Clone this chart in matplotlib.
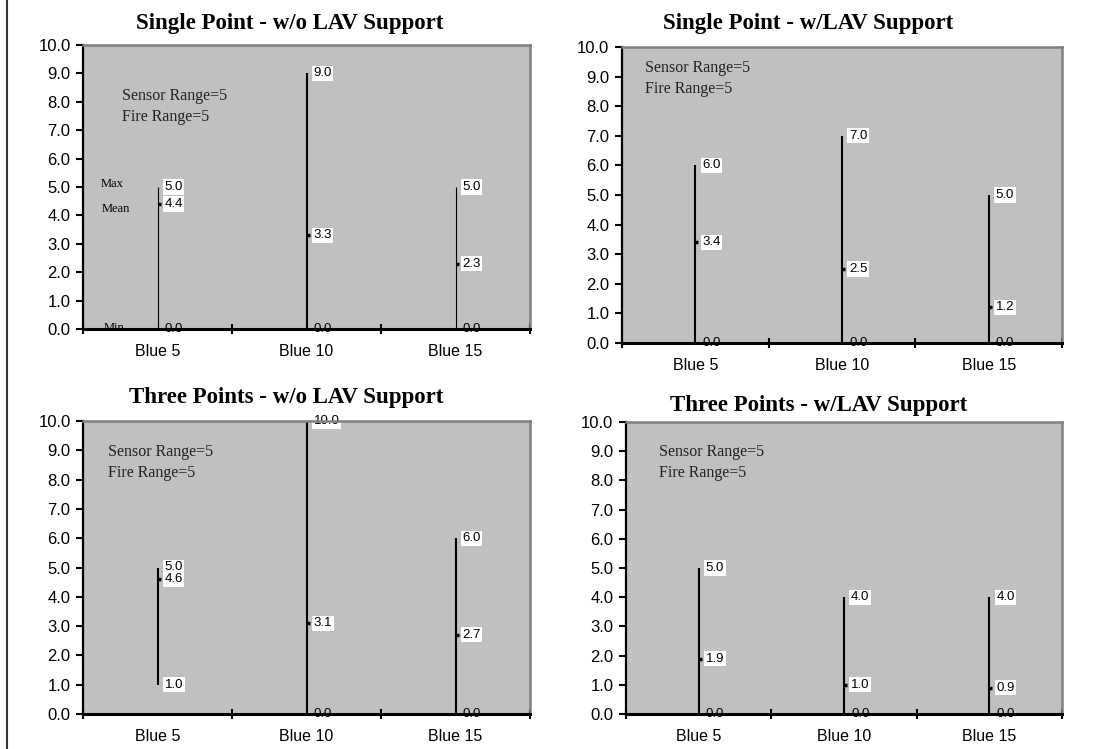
import numpy as np
import matplotlib.pyplot as plt
from matplotlib.markers import TICKRIGHT

W, H = 1107, 749

categories = ['Blue 5', 'Blue 10', 'Blue 15']
y_ticks = [0, 1, 2, 3, 4, 5, 6, 7, 8, 9, 10]

# single point, without LAV
sp_wo_max = [5.0, 9.0, 5.0]
sp_wo_mean = [4.4, 3.3, 2.3]
sp_wo_min = [0.0, 0.0, 0.0]

# single point, with LAV
sp_w_max = [6.0, 7.0, 5.0]
sp_w_mean = [3.4, 2.5, 1.2]
sp_w_min = [0.0, 0.0, 0.0]

# three points, without LAV
tp_wo_max = [5.0, 10.0, 6.0]
tp_wo_mean = [4.6, 3.1, 2.7]
tp_wo_min = [1.0, 0.0, 0.0]

# three points, with LAV
tp_w_max = [5.0, 4.0, 4.0]
tp_w_mean = [1.9, 1.0, 0.9]
tp_w_min = [0.0, 0.0, 0.0]

SERIF = 'Liberation Serif'
SANS = 'Liberation Sans'


def fx(x):
    return x / W


def fy(y):
    return 1 - y / H


def panel(fig, rect, title, title_pos, note_pos, hi, mean, lo, lws):
    x0, y0, x1, y1 = rect
    ax = fig.add_axes([fx(x0), fy(y1), (x1 - x0) / W, (y1 - y0) / H])
    ax.set_facecolor('#c0c0c0')
    x = np.arange(len(categories)) + 0.5

    ax.vlines(x, lo, hi, colors='k', linewidth=lws, zorder=2)
    ax.plot(x, mean, ls='none', marker=TICKRIGHT, ms=2, mew=2.5, color='k', zorder=2)

    for xi, a, m, b in zip(x, hi, mean, lo):
        for v in (a, b, m):
            bbox = None
            if v != 0:
                bbox = dict(boxstyle='square,pad=0.12', fc='white', ec='none')
            ax.annotate(f'{v:.1f}', (xi, v), xytext=(7, 0), textcoords='offset pixels',
                        ha='left', va='center', fontsize=9.5, family=SANS,
                        bbox=bbox, annotation_clip=False, zorder=2)

    ax.set_xlim(0, 3)
    ax.set_ylim(0, 10)
    ax.set_xticks([0, 1, 2, 3])
    ax.set_xticklabels([])
    ax.set_xticks(x, minor=True)
    ax.set_xticklabels(categories, minor=True, family=SANS, fontsize=11.5)
    ax.tick_params(axis='x', which='major', direction='inout', length=7.5, width=1.5)
    ax.tick_params(axis='x', which='minor', length=0, pad=11)
    ax.set_yticks(y_ticks)
    ax.set_yticklabels([f'{v:.1f}' for v in y_ticks], family=SANS, fontsize=12)
    ax.tick_params(axis='y', direction='out', length=5, width=1.5, pad=4)

    for s in ('top', 'right'):
        ax.spines[s].set_color('#808080')
        ax.spines[s].set_linewidth(1.8)
    ax.spines['left'].set_linewidth(1.6)
    ax.spines['bottom'].set_linewidth(2.2)

    fig.text(fx(title_pos[0]), fy(title_pos[1]), title, ha='center', va='baseline',
             family=SERIF, fontweight='bold', fontsize=16.5)
    ax.text(fx(note_pos[0]), fy(note_pos[1]), 'Sensor Range=5', transform=fig.transFigure,
            family=SERIF, fontsize=11.5, color='#222222', va='baseline')
    ax.text(fx(note_pos[0]), fy(note_pos[1] + 21), 'Fire Range=5', transform=fig.transFigure,
            family=SERIF, fontsize=11.5, color='#222222', va='baseline')
    return ax


fig = plt.figure(figsize=(W / 100, H / 100), dpi=100, facecolor='w')

ax1 = panel(fig, (83, 45, 530, 329), 'Single Point - w/o LAV Support', (290, 29), (122, 100),
            sp_wo_max, sp_wo_mean, sp_wo_min, [0.8, 1.5, 0.8])
panel(fig, (622, 47, 1062, 343), 'Single Point - w/LAV Support', (808, 29), (645, 72),
      sp_w_max, sp_w_mean, sp_w_min, 1.5)
panel(fig, (83, 421, 530, 714), 'Three Points - w/o LAV Support', (286, 403), (108, 456),
      tp_wo_max, tp_wo_mean, tp_wo_min, 1.5)
panel(fig, (626, 422, 1062, 714), 'Three Points - w/LAV Support', (819, 411), (659, 456),
      tp_w_max, tp_w_mean, tp_w_min, 1.5)

# legend-like labels on the first chart
for txt, px, py in (('Max', 101, 187), ('Mean', 102, 212), ('Min', 104, 331)):
    ax1.text(fx(px), fy(py), txt, transform=fig.transFigure, family=SERIF,
             fontsize=9, va='baseline', zorder=2)

# page border on the left
fig.add_artist(plt.Line2D([fx(7), fx(7)], [0, 1], color='#333333', lw=1.5))

fig.savefig('out.png', dpi=100)
